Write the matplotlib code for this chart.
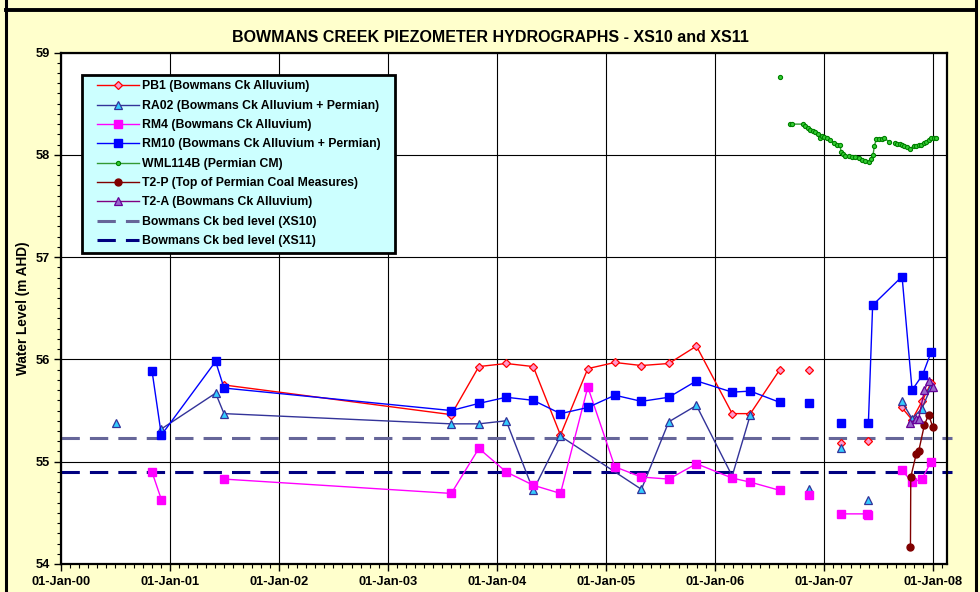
import matplotlib
matplotlib.use("Agg")
import matplotlib.pyplot as plt
import matplotlib.dates as mdates
from matplotlib.lines import Line2D
from matplotlib.legend_handler import HandlerLine2D
import numpy as np
import pandas as pd

# ---------------------------------------------------------
# DATA (decimal years, water level m AHD; nan = break in line)
# ---------------------------------------------------------
pb1_yr = [2001.496, 2003.582, 2003.835, 2004.086, 2004.334, 2004.584, 2004.835,
          2005.083, 2005.327, 2005.578, 2005.832, 2006.160, 2006.327, 2006.597,
          2006.73, 2006.866, 2007.01, 2007.156, 2007.28, 2007.410, 2007.56,
          2007.716, 2007.811, 2007.902, 2007.985]
pb1_wl = [55.75, 55.46, 55.93, 55.96, 55.93, 55.26, 55.91,
          55.97, 55.94, 55.96, 56.13, 55.47, 55.47, 55.90,
          np.nan, 55.90, np.nan, 55.18, np.nan, 55.20, np.nan,
          55.53, 55.41, 55.59, 55.77]

ra02_yr = [2000.502, 2000.70, 2000.921, 2001.419, 2001.496, 2003.582, 2003.835,
           2004.086, 2004.334, 2004.584, 2005.327, 2005.578, 2005.832, 2006.160,
           2006.327, 2006.60, 2006.866, 2007.01, 2007.156, 2007.28, 2007.410,
           2007.56, 2007.716, 2007.811, 2007.902, 2007.985]
ra02_wl = [55.38, np.nan, 55.32, 55.67, 55.47, 55.37, 55.37,
           55.40, 54.72, 55.25, 54.73, 55.39, 55.55, 54.86,
           55.46, np.nan, 54.73, np.nan, 55.13, np.nan, 54.63,
           np.nan, 55.59, 55.42, 55.52, 55.73]

rm4_yr = [2000.835, 2000.921, 2001.20, 2001.496, 2003.582, 2003.835, 2004.086,
          2004.334, 2004.584, 2004.835, 2005.083, 2005.327, 2005.578, 2005.832,
          2006.160, 2006.327, 2006.597, 2006.73, 2006.866, 2007.01, 2007.156,
          2007.398, 2007.410, 2007.56, 2007.716, 2007.811, 2007.902, 2007.985]
rm4_wl = [54.90, 54.63, np.nan, 54.83, 54.69, 55.13, 54.90,
          54.77, 54.69, 55.73, 54.95, 54.85, 54.83, 54.98,
          54.84, 54.80, 54.72, np.nan, 54.67, np.nan, 54.49,
          54.49, 54.48, np.nan, 54.92, 54.80, 54.83, 55.00]

rm10_yr = [2000.835, 2000.921, 2001.419, 2001.496, 2003.582, 2003.835, 2004.086,
           2004.334, 2004.584, 2004.835, 2005.083, 2005.327, 2005.578, 2005.832,
           2006.160, 2006.327, 2006.597, 2006.73, 2006.866, 2007.01, 2007.156,
           2007.28, 2007.410, 2007.449, 2007.719, 2007.811, 2007.908, 2007.985]
rm10_wl = [55.89, 55.26, 55.98, 55.72, 55.50, 55.57, 55.63,
           55.60, 55.47, 55.53, 55.65, 55.59, 55.63, 55.79,
           55.68, 55.69, 55.58, np.nan, 55.57, np.nan, 55.38,
           np.nan, 55.38, 56.53, 56.81, 55.70, 55.85, 56.07]

wml_yr = [2006.596, 2006.64, 2006.688, 2006.710, 2006.811, 2006.832, 2006.853,
          2006.878, 2006.903, 2006.924, 2006.945, 2006.963, 2006.985, 2007.006,
          2007.031, 2007.061, 2007.092, 2007.123, 2007.147, 2007.160, 2007.178,
          2007.199, 2007.229, 2007.261, 2007.291, 2007.321, 2007.352, 2007.383,
          2007.413, 2007.435, 2007.453, 2007.465, 2007.483, 2007.505, 2007.536,
          2007.550, 2007.603, 2007.63, 2007.658, 2007.673, 2007.697, 2007.719,
          2007.740, 2007.765, 2007.796, 2007.826, 2007.850, 2007.872, 2007.894,
          2007.917, 2007.942, 2007.963, 2007.988, 2008.009, 2008.028]
wml_wl = [58.76, np.nan, 58.30, 58.30, 58.30, 58.28, 58.26,
          58.24, 58.23, 58.22, 58.20, 58.16, 58.18, 58.17,
          58.16, 58.14, 58.12, 58.10, 58.10, 58.03, 58.01,
          57.99, 57.99, 57.98, 57.98, 57.97, 57.95, 57.94,
          57.93, 57.96, 58.00, 58.09, 58.15, 58.15, 58.15,
          58.16, 58.13, np.nan, 58.12, 58.11, 58.11, 58.10,
          58.09, 58.08, 58.06, 58.09, 58.09, 58.10, 58.10,
          58.12, 58.13, 58.14, 58.16, 58.16, 58.16]

t2p_yr = [2007.796, 2007.799, 2007.850, 2007.871, 2007.924, 2007.963, 2008.000]
t2p_wl = [54.17, 54.85, 55.08, 55.10, 55.36, 55.46, 55.34]

t2a_yr = [2007.795, 2007.850, 2007.871, 2007.924, 2007.963, 2008.000]
t2a_wl = [55.38, 55.42, 55.42, 55.70, 55.79, 55.73]

bed_dates = ["2000-01-01", "2008-03-06"]
bed_xs10 = 55.23
bed_xs11 = 54.90

labels = [
    "PB1 (Bowmans Ck Alluvium)",
    "RA02 (Bowmans Ck Alluvium + Permian)",
    "RM4 (Bowmans Ck Alluvium)",
    "RM10 (Bowmans Ck Alluvium + Permian)",
    "WML114B (Permian CM)",
    "T2-P (Top of Permian Coal Measures)",
    "T2-A (Bowmans Ck Alluvium)",
    "Bowmans Ck bed level (XS10)",
    "Bowmans Ck bed level (XS11)",
]


def to_date(yrs):
    yrs = np.asarray(yrs, dtype=float)
    return pd.Timestamp("2000-01-01") + pd.to_timedelta((yrs - 2000.0) * 365.25, unit="D")


# ---------------------------------------------------------
# FIGURE
# ---------------------------------------------------------
plt.rcParams["font.family"] = ["Liberation Sans", "DejaVu Sans"]
plt.rcParams["font.weight"] = "bold"

fig = plt.figure(figsize=(9.8, 5.92), dpi=100, facecolor="#FFFFCC")
ax = fig.add_axes([61 / 980, 28 / 592, 885.7 / 980, 511.5 / 592])
ax.set_facecolor("white")

# outer chart frame
fig.add_artist(Line2D([5.5 / 980, 5.5 / 980], [-0.1, 1.1], transform=fig.transFigure,
                      color="black", lw=2.2))
fig.add_artist(Line2D([976 / 980, 976 / 980], [-0.1, 1.1], transform=fig.transFigure,
                      color="black", lw=2.2))
fig.add_artist(Line2D([5.5 / 980, 976 / 980], [1 - 9.5 / 592, 1 - 9.5 / 592],
                      transform=fig.transFigure, color="black", lw=2.8))

# ----------------------------- SERIES
ax.plot(to_date(pb1_yr), pb1_wl, color="#FF0000", lw=1.0, marker="D", ms=3.6,
        mfc="#FF99CC", mec="#FF0000", mew=0.9, label=labels[0], zorder=3)
ax.plot(to_date(ra02_yr), ra02_wl, color="#333399", lw=1.0, marker="^", ms=5.4,
        mfc="#33CCFF", mec="#333399", mew=0.9, label=labels[1], zorder=3)
ax.plot(to_date(rm4_yr), rm4_wl, color="#FF00FF", lw=1.0, marker="s", ms=5.2,
        mfc="#FF00FF", mec="#FF00FF", label=labels[2], zorder=3)
ax.plot(to_date(rm10_yr), rm10_wl, color="#0000FF", lw=1.0, marker="s", ms=5.2,
        mfc="#0000FF", mec="#0000FF", label=labels[3], zorder=3)
ax.plot(to_date(wml_yr), wml_wl, color="#339933", lw=1.0, marker="o", ms=3.0,
        mfc="#33CC33", mec="#008000", mew=0.8, label=labels[4], zorder=3)
ax.plot(to_date(t2p_yr), t2p_wl, color="#800000", lw=1.0, marker="o", ms=5.0,
        mfc="#800000", mec="#800000", label=labels[5], zorder=3)
ax.plot(to_date(t2a_yr), t2a_wl, color="#800080", lw=1.0, marker="^", ms=5.6,
        mfc="#9966CC", mec="#660099", mew=0.9, label=labels[6], zorder=3)

# ----------------------------- BED LEVELS
bed_x = pd.to_datetime(bed_dates)
ax.plot(bed_x, [bed_xs10] * 2, color="#666699", lw=2.2, dashes=(6, 3.3),
        label=labels[7], zorder=2, clip_on=False)
ax.plot(bed_x, [bed_xs11] * 2, color="#000080", lw=2.2, dashes=(6, 3.3),
        label=labels[8], zorder=2, clip_on=False)

# ---------------------------------------------------------
# AXES
# ---------------------------------------------------------
ax.set_xlim(pd.Timestamp("2000-01-01"), pd.Timestamp("2008-02-17"))
ax.set_ylim(54, 59)

ax.xaxis.set_major_locator(mdates.YearLocator())
ax.xaxis.set_minor_locator(mdates.MonthLocator())
ax.xaxis.set_major_formatter(mdates.DateFormatter("%d-%b-%y"))
ax.set_yticks(np.arange(54, 59.01, 1))
ax.set_yticks(np.arange(54, 59.01, 0.1), minor=True)

ax.tick_params(axis="both", which="major", direction="out", length=5, width=1,
               labelsize=9.3)
ax.tick_params(axis="x", which="major", pad=3.5)
ax.tick_params(axis="y", which="major", pad=3)
ax.tick_params(axis="both", which="minor", direction="out", length=3, width=0.8)
for lab in ax.get_xticklabels() + ax.get_yticklabels():
    lab.set_fontweight("bold")

ax.grid(True, which="major", color="black", lw=0.8)
ax.set_axisbelow(True)
for sp in ax.spines.values():
    sp.set_linewidth(1.6)
    sp.set_color("black")

ax.set_ylabel("Water Level (m AHD)", fontsize=9.8, fontweight="bold", labelpad=4)
fig.text(0.5, 1 - 37 / 592, "BOWMANS CREEK PIEZOMETER HYDROGRAPHS - XS10 and XS11",
         ha="center", va="center", fontsize=11.5, fontweight="bold")

# ---------------------------------------------------------
# LEGEND
# ---------------------------------------------------------
leg_x0 = 21 / 885.7
leg_top = 1 - 22.5 / 511.5
leg_w = 313 / 885.7
leg = ax.legend(loc="upper left", bbox_to_anchor=(leg_x0, leg_top - 0.5, leg_w, 0.5),
                mode="expand", prop={"weight": "bold", "size": 8.8}, frameon=True,
                fancybox=False, facecolor="#CCFFFF", edgecolor="black", framealpha=1,
                handlelength=4.2, handletextpad=0.3, labelspacing=0.6,
                borderpad=0.45, borderaxespad=0,
                handler_map={Line2D: HandlerLine2D(xpad=0.8)})
leg.get_frame().set_linewidth(2)

fig.savefig("out.png", dpi=100, facecolor=fig.get_facecolor())
